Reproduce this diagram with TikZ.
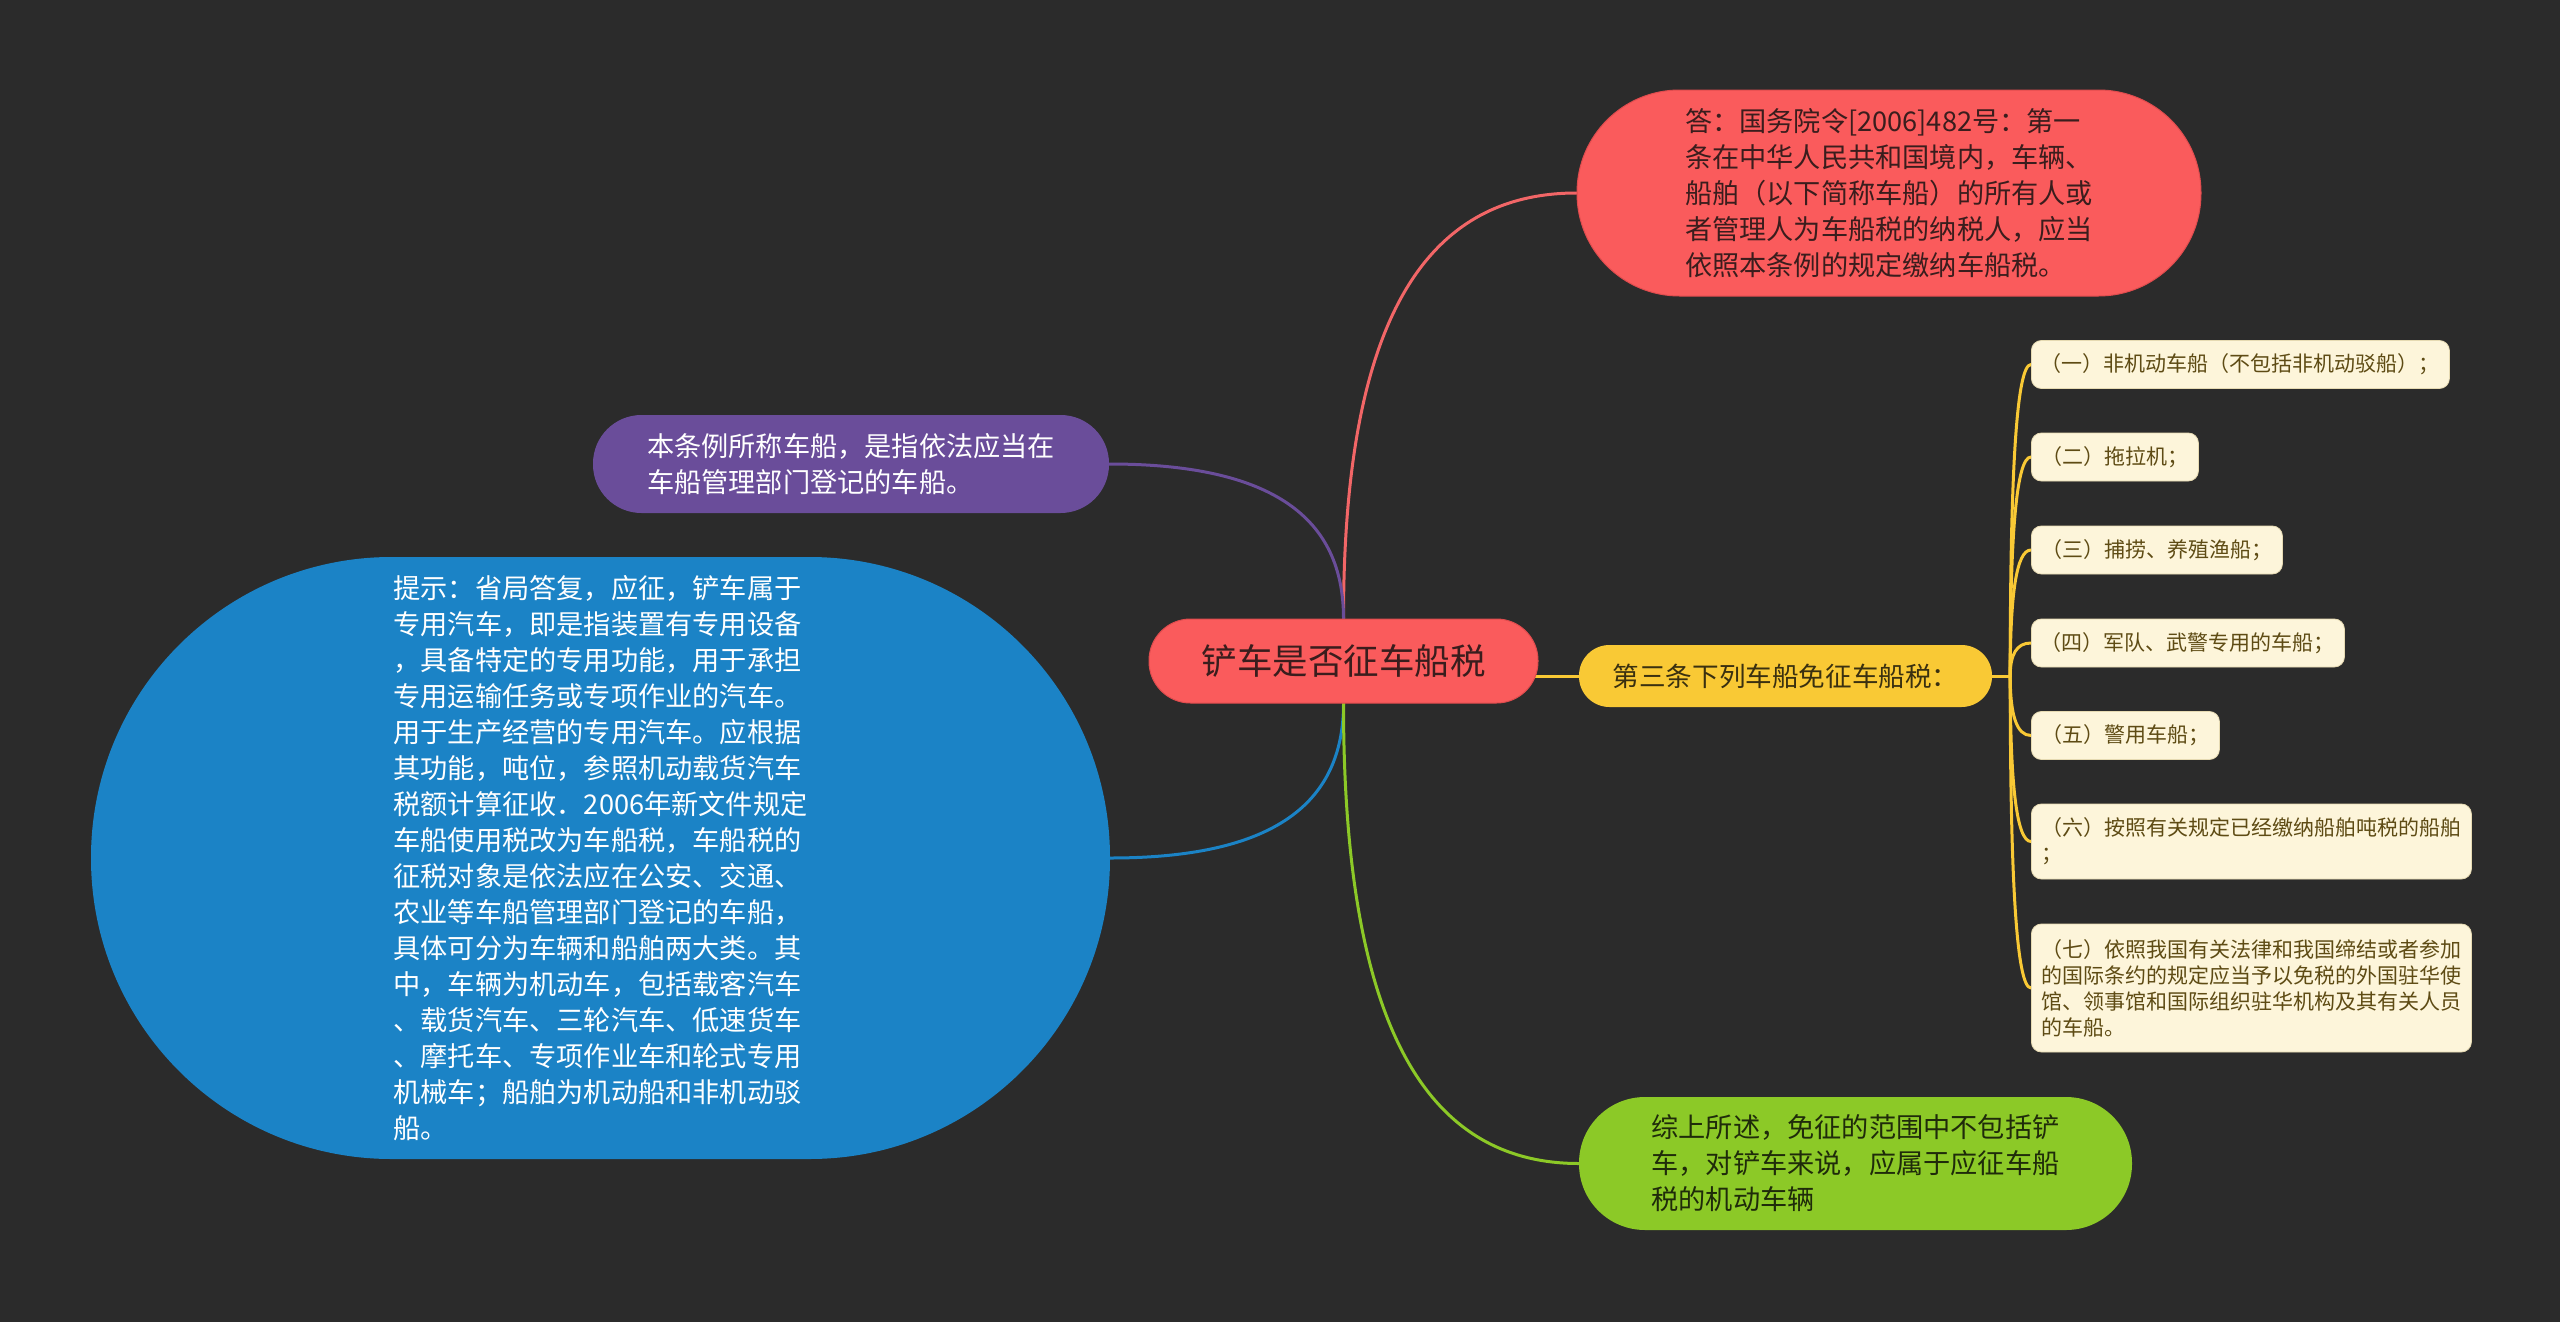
\documentclass[tikz,border=0pt]{standalone}
\usepackage{fontspec}
\newfontfamily\cjk{Noto Sans CJK SC}
\usetikzlibrary{calc}
\definecolor{bgc}{HTML}{2B2B2B}
\definecolor{redc}{HTML}{FA5B5C}
\definecolor{redline}{HTML}{F26667}
\definecolor{redtext}{HTML}{3A1D1D}
\definecolor{rededge}{HTML}{E04C4E}
\definecolor{purc}{HTML}{6A4D9A}
\definecolor{bluec}{HTML}{1B83C6}
\definecolor{yelc}{HTML}{F9C935}
\definecolor{yeltext}{HTML}{3A3010}
\definecolor{grnc}{HTML}{8CC927}
\definecolor{grntext}{HTML}{1F2B0A}
\definecolor{leafc}{HTML}{FDF5DA}
\definecolor{leafedge}{HTML}{E6DAB2}
\definecolor{leaftext}{HTML}{5E4B14}
\pgfdeclarelayer{back}
\pgfdeclarelayer{edges}
\pgfsetlayers{back,edges,main}
\newcommand\mmcurve[3]{\draw[conn,#3] (#1) .. controls ($(#1)!0.65!(#1|-#2)$) and ($(#2-|#1)!0.3!(#2)$) .. (#2);}
\begin{document}
\begin{tikzpicture}[x=1pt,y=-1pt,
  pill/.style={rectangle, inner sep=0pt, align=left},
  big/.style={font=\fontsize{27.2}{36}\selectfont\cjk},
  leaf/.style={rectangle, fill=leafc, draw=leafedge, line width=0.8pt, rounded corners=10pt,
    inner xsep=8pt, inner ysep=0pt, anchor=west, align=left, text=leaftext,
    font=\fontsize{21}{26}\selectfont\cjk},
  conn/.style={line width=3pt, line cap=round},
]
\begin{pgfonlayer}{back}
\fill[bgc] (0,0) rectangle (2560,1322);
\end{pgfonlayer}
\useasboundingbox (0,0) rectangle (2560,1322);

% root
\node[pill, fill=redc, draw=rededge, line width=1pt, text=redtext,
  font=\fontsize{35.5}{42}\selectfont\cjk,
  minimum width=389pt, minimum height=84pt, rounded corners=41.5pt] (root) at (1343.5,661) {铲车是否征车船税};

% level 2
\node[pill, big, fill=redc, draw=rededge, line width=1pt, text=redtext,
  minimum width=624pt, minimum height=206pt, rounded corners=102.5pt] (n1) at (1889,193)
  {答：国务院令[2006]482号：第一\\条在中华人民共和国境内，车辆、\\船舶（以下简称车船）的所有人或\\者管理人为车船税的纳税人，应当\\依照本条例的规定缴纳车船税。};

\node[pill, big, fill=purc, text=white,
  minimum width=516pt, minimum height=98pt, rounded corners=48.5pt] (n2) at (851,464)
  {本条例所称车船，是指依法应当在\\车船管理部门登记的车船。};

\node[pill, big, fill=bluec, text=white,
  minimum width=1019pt, minimum height=602pt, rounded corners=300.5pt] (n3) at (600.5,858)
  {提示：省局答复，应征，铲车属于\\专用汽车，即是指装置有专用设备\\，具备特定的专用功能，用于承担\\专用运输任务或专项作业的汽车。\\用于生产经营的专用汽车。应根据\\其功能，吨位，参照机动载货汽车\\税额计算征收．2006年新文件规定\\车船使用税改为车船税，车船税的\\征税对象是依法应在公安、交通、\\农业等车船管理部门登记的车船，\\具体可分为车辆和船舶两大类。其\\中，车辆为机动车，包括载客汽车\\、载货汽车、三轮汽车、低速货车\\、摩托车、专项作业车和轮式专用\\机械车；船舶为机动船和非机动驳\\船。};

\node[pill, fill=yelc, text=yeltext, font=\fontsize{26.6}{32}\selectfont\cjk,
  minimum width=413pt, minimum height=62pt, rounded corners=30.5pt] (n4) at (1785.5,676)
  {第三条下列车船免征车船税：};

\node[pill, big, fill=grnc, text=grntext,
  minimum width=553pt, minimum height=133pt, rounded corners=66pt] (n5) at (1855.5,1163.5)
  {综上所述，免征的范围中不包括铲\\车，对铲车来说，应属于应征车船\\税的机动车辆};

% leaves
\node[leaf, minimum width=418pt, minimum height=48pt] (l1) at (2031,364.5) {（一）非机动车船（不包括非机动驳船）；};
\node[leaf, minimum width=167pt, minimum height=48pt] (l2) at (2031,457) {（二）拖拉机；};
\node[leaf, minimum width=251pt, minimum height=48pt] (l3) at (2031,550) {（三）捕捞、养殖渔船；};
\node[leaf, minimum width=313pt, minimum height=48pt] (l4) at (2031,643) {（四）军队、武警专用的车船；};
\node[leaf, minimum width=188pt, minimum height=48pt] (l5) at (2031,735.5) {（五）警用车船；};
\node[leaf, minimum width=440pt, minimum height=75pt] (l6) at (2031,841.5) {（六）按照有关规定已经缴纳船舶吨税的船舶\\；};
\node[leaf, minimum width=440pt, minimum height=128pt] (l7) at (2031,988) {（七）依照我国有关法律和我国缔结或者参加\\的国际条约的规定应当予以免税的外国驻华使\\馆、领事馆和国际组织驻华机构及其有关人员\\的车船。};

\coordinate (sp) at ($(n4.east)+(18,0)$);

\begin{pgfonlayer}{edges}
\mmcurve{root.north}{n1.west}{redline}
\mmcurve{root.north}{n2.east}{purc}
\mmcurve{root.south}{n3.east}{bluec}
\mmcurve{root.south}{n5.west}{grnc}
\draw[conn,yelc] (root.center |- n4.west) -- (n4.west);
\draw[conn,yelc] (n4.east) -- (sp);
\mmcurve{sp}{l1.west}{yelc}
\mmcurve{sp}{l2.west}{yelc}
\mmcurve{sp}{l3.west}{yelc}
\mmcurve{sp}{l4.west}{yelc}
\mmcurve{sp}{l5.west}{yelc}
\mmcurve{sp}{l6.west}{yelc}
\mmcurve{sp}{l7.west}{yelc}
\end{pgfonlayer}
\end{tikzpicture}
\end{document}
